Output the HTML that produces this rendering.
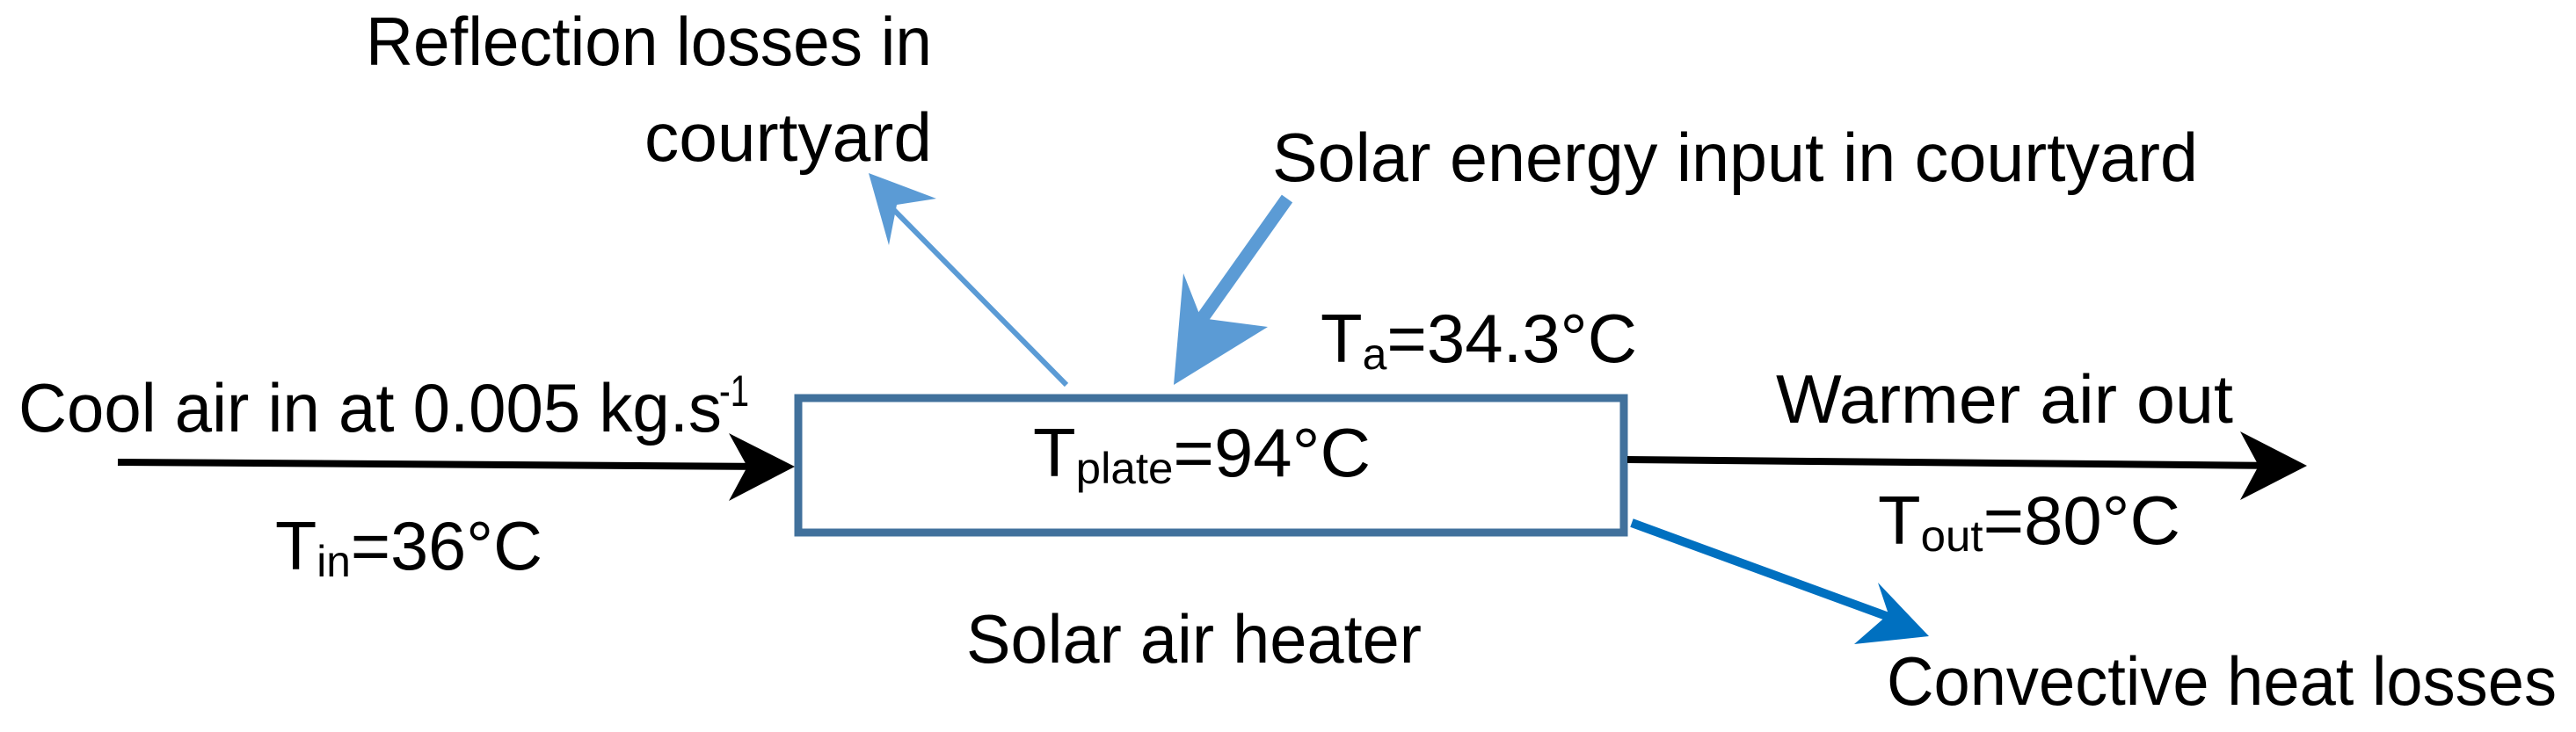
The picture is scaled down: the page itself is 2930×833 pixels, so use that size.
<!DOCTYPE html>
<html><head><meta charset="utf-8"><style>html,body{margin:0;padding:0;background:#fff}svg{display:block}</style></head>
<body>
<svg width="2930" height="833" viewBox="0 0 2930 833" xmlns="http://www.w3.org/2000/svg" font-family="'Liberation Sans', sans-serif" font-size="78" fill="#000">
<rect x="908" y="453" width="939" height="153" fill="#fff" stroke="#41719c" stroke-width="9"/>
<line x1="134" y1="526" x2="880" y2="531" stroke="#000" stroke-width="8"/>
<polygon points="904,531 829,493 850,531 829,570" fill="#000"/>
<line x1="1851" y1="523" x2="2600" y2="530" stroke="#000" stroke-width="8"/>
<polygon points="2624,530 2548,491 2569,530 2548,569" fill="#000"/>
<line x1="1213" y1="438" x2="1010" y2="232" stroke="#5b9bd5" stroke-width="6"/>
<polygon points="988,197 1065,226 1020,233 1011,279" fill="#5b9bd5"/>
<line x1="1464" y1="226" x2="1362" y2="370" stroke="#5b9bd5" stroke-width="15"/>
<polygon points="1335,438 1346,311 1366,362 1442,372" fill="#5b9bd5"/>
<line x1="1856" y1="595" x2="2170" y2="710" stroke="#0070c0" stroke-width="10"/>
<polygon points="2194,724 2136,663 2148,699 2109,733" fill="#0070c0"/>
<text x="416" y="74" textLength="644" lengthAdjust="spacingAndGlyphs">Reflection losses in</text>
<text x="733" y="183" textLength="327" lengthAdjust="spacingAndGlyphs">courtyard</text>
<text x="1447" y="206" textLength="1053" lengthAdjust="spacingAndGlyphs">Solar energy input in courtyard</text>
<text x="1502" y="412" textLength="360" lengthAdjust="spacingAndGlyphs">T<tspan font-size="50" dy="8">a</tspan><tspan dy="-8">=34.3°C</tspan></text>
<text x="2020" y="481" textLength="520" lengthAdjust="spacingAndGlyphs">Warmer air out</text>
<text x="21" y="491" textLength="800" lengthAdjust="spacingAndGlyphs">Cool air in at 0.005 kg.s</text>
<text x="818" y="462" font-size="50" textLength="34" lengthAdjust="spacingAndGlyphs">-1</text>
<text x="1175" y="542" textLength="384" lengthAdjust="spacingAndGlyphs">T<tspan font-size="50" dy="8">plate</tspan><tspan dy="-8">=94°C</tspan></text>
<text x="313" y="648" textLength="304" lengthAdjust="spacingAndGlyphs">T<tspan font-size="50" dy="8">in</tspan><tspan dy="-8">=36°C</tspan></text>
<text x="2136" y="619" textLength="344" lengthAdjust="spacingAndGlyphs">T<tspan font-size="50" dy="8">out</tspan><tspan dy="-8">=80°C</tspan></text>
<text x="1099" y="754" textLength="518" lengthAdjust="spacingAndGlyphs">Solar air heater</text>
<text x="2146" y="802" textLength="762" lengthAdjust="spacingAndGlyphs">Convective heat losses</text>
</svg>
</body></html>
